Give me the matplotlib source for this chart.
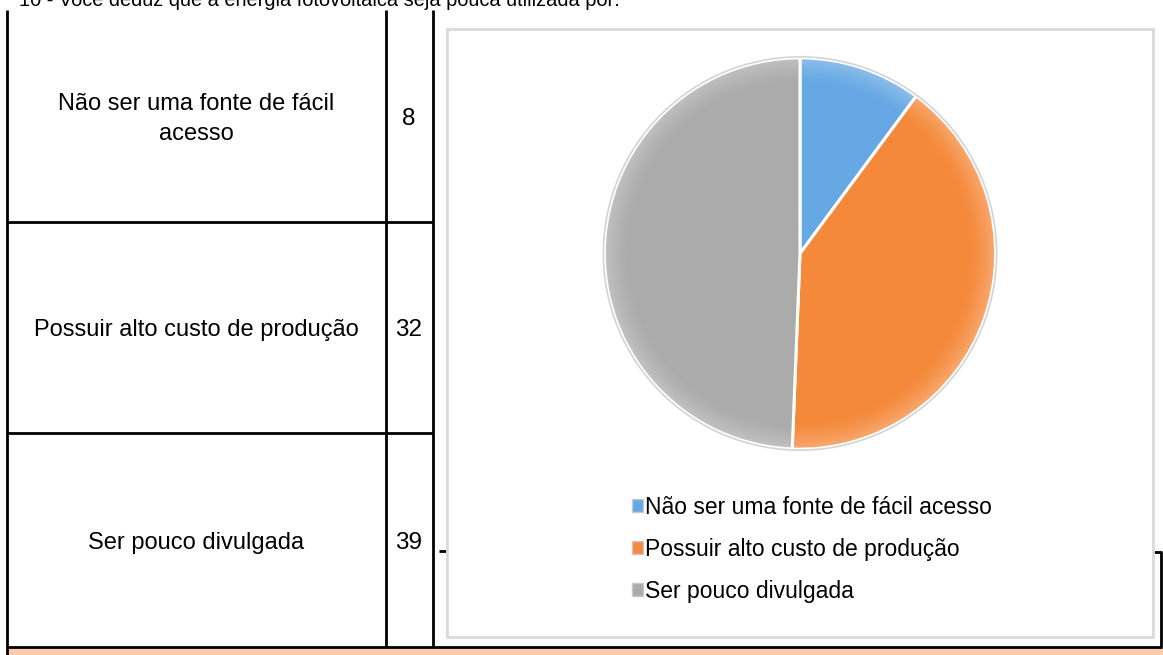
import matplotlib
matplotlib.use("Agg")
import matplotlib.pyplot as plt
import numpy as np
from matplotlib.patches import Rectangle, Circle

plt.rcParams['font.family'] = ['Liberation Sans', 'DejaVu Sans']

# ---- data ----
title = "10 - Você deduz que a energia fotovoltaica seja pouca utilizada por:"
categories = ["Não ser uma fonte de fácil acesso",
              "Possuir alto custo de produção",
              "Ser pouco divulgada"]
table_labels = ["Não ser uma fonte de fácil\nacesso",
                "Possuir alto custo de produção",
                "Ser pouco divulgada"]
counts = [8, 32, 39]
colors = ["#66A8E4", "#F5893B", "#ABABAB"]

W, H = 1163, 655
fig = plt.figure(figsize=(W / 100, H / 100), dpi=100)
fig.patch.set_facecolor("white")

# background axes in pixel coordinates for the document table
bg = fig.add_axes([0, 0, 1, 1])
bg.set_xlim(0, W)
bg.set_ylim(H, 0)
bg.axis("off")

# peach band at the bottom
bg.add_patch(Rectangle((7, 648), W - 7, 10, facecolor="#F8CBAD", edgecolor="none", zorder=0))

lw = 2.0
k = dict(color="black", lw=lw, solid_capstyle="butt", zorder=2)
bg.plot([7, 7], [10, 655], **k)
bg.plot([386, 386], [10, 647], **k)
bg.plot([433, 433], [10, 647], **k)
bg.plot([7, 433], [222, 222], **k)
bg.plot([7, 433], [433, 433], **k)
bg.plot([7, 1162], [647, 647], **k)
bg.plot([1161, 1161], [552, 647], **k)
bg.plot([1154, 1162], [552, 552], **k)
bg.plot([439, 446], [551, 551], **k)

# title (cut at top, as in the document)
bg.text(19, 6, title, fontsize=14.4, va="baseline", ha="left", color="black")

# table cells
row_y = [119, 330, 543]
for lab, val, y in zip(table_labels, counts, row_y):
    bg.text(196, y, lab, fontsize=17, ha="center", va="center",
            linespacing=1.5, color="black")
    bg.text(409, y, str(val), fontsize=17.5, ha="center", va="center", color="black")

# chart box
bg.add_patch(Rectangle((447, 29), 1153 - 447, 637 - 29, facecolor="white",
                       edgecolor="#D9D9D9", lw=2, zorder=3))

# pie
cx, cy, r = 800, 253.5, 198
pax = fig.add_axes([(cx - r) / W, (H - cy - r) / H, 2 * r / W, 2 * r / H])
pax.set_zorder(5)
wedges, _ = pax.pie(counts, colors=colors, startangle=90, counterclock=False,
                    wedgeprops=dict(edgecolor="white", linewidth=2.2))
# soft bevel highlight near the rim
n = 500
yy, xx = np.mgrid[-1:1:n * 1j, -1:1:n * 1j]
rr = np.hypot(xx, yy)
img = np.zeros((n, n, 4))
img[..., :3] = 1.0
img[..., 3] = np.clip((rr - 0.86) / 0.14, 0, 1) ** 1.5 * 0.28
im = pax.imshow(img, extent=(-1, 1, -1, 1), zorder=3, interpolation="bilinear")
im.set_clip_path(Circle((0, 0), 1, transform=pax.transData))
pax.add_patch(Circle((0, 0), 1.005, facecolor="none", edgecolor="#D4D4D4", lw=1.2, zorder=4))
pax.set_xlim(-1.012, 1.012)
pax.set_ylim(-1.012, 1.012)
pax.set_aspect("equal")
pax.axis("off")

# legend
handles = [Rectangle((0, 0), 1, 1, facecolor=c, edgecolor="#C8C8C8", lw=1) for c in colors]
leg = fig.legend(handles, categories, loc="upper left",
                 bbox_to_anchor=(632 / W, (H - 496) / H),
                 frameon=False, fontsize=16.5, handlelength=0.5, handleheight=0.5,
                 handletextpad=0.08, labelspacing=0.82, borderpad=0, borderaxespad=0)
leg.set_zorder(6)

fig.savefig("out.png", dpi=100)
